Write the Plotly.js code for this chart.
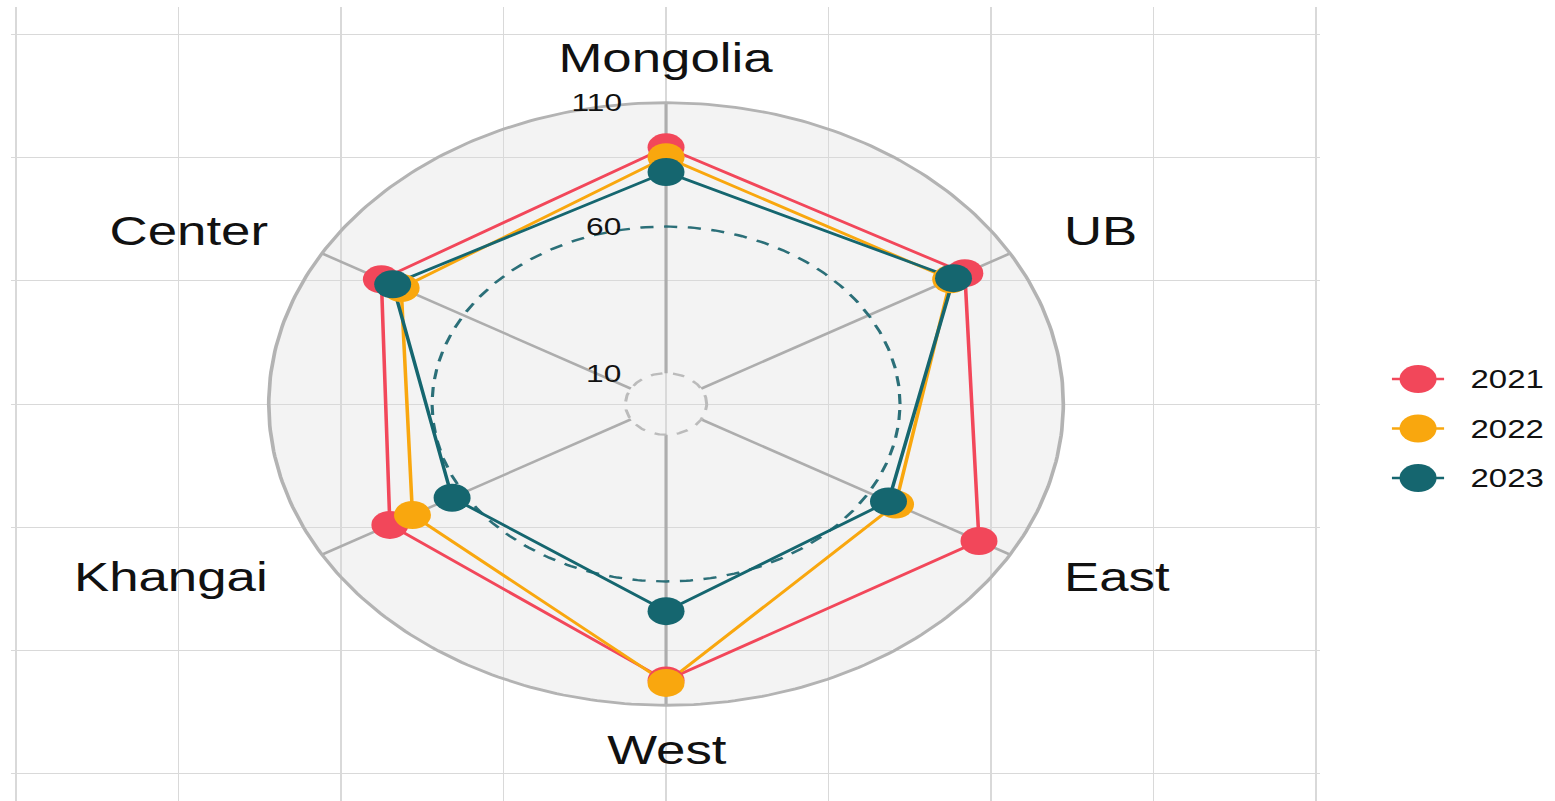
<!DOCTYPE html>
<html><head><meta charset="utf-8">
<script src="https://cdn.plot.ly/plotly-3.0.1.min.js"></script>
<style>
html,body{margin:0;padding:0;background:#fff;overflow:hidden;width:1555px;height:801px;}
#chart{width:1178px;height:801px;transform:scaleX(1.32);transform-origin:0 0;}
</style></head><body><div id="chart"></div>
<script>
// ---------- data ----------
const categories = ['Mongolia', 'UB', 'East', 'West', 'Khangai', 'Center'];
const years = ['2021', '2022', '2023'];
const values2021 = [92, 94, 99, 100, 86, 89];
const values2022 = [88, 89, 69.5, 101, 78, 82];
const values2023 = [82, 90, 67, 72, 64, 85];
const gridLevels = [10, 60, 110];
const gridLabels = ['10', '60', '110'];

// ---------- styling / scale configuration ----------
const seriesValues = [values2021, values2022, values2023];
const colors = ['#F2475A', '#F9A70E', '#15666F'];
const RING_R = [0.25, 1.44, 2.445];      // radius (axis units) of each grid level ring
const FONT = 'Liberation Sans, Arial, Helvetica, sans-serif';

function rad(v) {
  if (v <= gridLevels[1]) {
    return RING_R[0] + (v - gridLevels[0]) / (gridLevels[1] - gridLevels[0]) * (RING_R[1] - RING_R[0]);
  }
  return RING_R[1] + (v - gridLevels[1]) / (gridLevels[2] - gridLevels[1]) * (RING_R[2] - RING_R[1]);
}
const n = categories.length;
const ang = i => Math.PI / 2 - i * 2 * Math.PI / n;
const R = rad(gridLevels[2]);

const traces = [];
function ring(r, color, width, dash) {
  const xs = [], ys = [];
  for (let d = 0; d <= 360; d += 1) {
    const a = d * Math.PI / 180;
    xs.push(r * Math.cos(a)); ys.push(r * Math.sin(a));
  }
  traces.push({x: xs, y: ys, type: 'scatter', mode: 'lines', hoverinfo: 'skip', showlegend: false,
    line: {color: color, width: width, dash: dash}});
}
// spokes
categories.forEach((c, i) => {
  const a = ang(i);
  const r0 = rad(gridLevels[0]);
  traces.push({x: [r0 * Math.cos(a), R * Math.cos(a)], y: [r0 * Math.sin(a), R * Math.sin(a)],
    type: 'scatter', mode: 'lines', hoverinfo: 'skip', showlegend: false,
    line: {color: '#adadad', width: 2.4}});
});
ring(rad(gridLevels[0]), '#bbbbbb', 2.3, '9px,8px');
ring(rad(gridLevels[1]), '#2b6f78', 2.4, '10px,8px');
ring(rad(gridLevels[2]), '#b3b3b3', 2.8, 'solid');

// series lines
seriesValues.forEach((vals, k) => {
  const xs = [], ys = [];
  vals.concat([vals[0]]).forEach((v, j) => {
    const a = ang(j % n);
    xs.push(rad(v) * Math.cos(a)); ys.push(rad(v) * Math.sin(a));
  });
  traces.push({x: xs, y: ys, type: 'scatter', mode: 'lines', name: years[k], showlegend: false,
    hoverinfo: 'skip', line: {color: colors[k], width: 2.7}});
});
// series points
seriesValues.forEach((vals, k) => {
  const xs = vals.map((v, j) => rad(v) * Math.cos(ang(j)));
  const ys = vals.map((v, j) => rad(v) * Math.sin(ang(j)));
  traces.push({x: xs, y: ys, type: 'scatter', mode: 'markers', name: years[k], showlegend: false,
    text: categories, hovertemplate: '%{text}: ' + '%{customdata}<extra>' + years[k] + '</extra>',
    customdata: vals, marker: {color: colors[k], size: 28, opacity: 1, line: {width: 0}}});
});

// custom legend (drawn on secondary axes, in pixel-like units)
const LEG_X = [1054.5, 1074.3, 1094];
const LEG_Y0 = 379, LEG_DY = 49.5;
years.forEach((yr, k) => {
  const yy = LEG_Y0 + k * LEG_DY;
  traces.push({x: LEG_X, y: [yy, yy, yy], xaxis: 'x2', yaxis: 'y2', type: 'scatter', mode: 'lines+markers',
    hoverinfo: 'skip', showlegend: false, line: {color: colors[k], width: 2.7},
    marker: {color: colors[k], size: [0, 28, 0], opacity: 1, line: {width: 0}}});
});

const annotations = [];
categories.forEach((c, i) => {
  const a = ang(i);
  const lr = R * 1.15;
  const cx = Math.cos(a);
  annotations.push({x: lr * cx, y: lr * Math.sin(a), xref: 'x', yref: 'y', text: c, showarrow: false,
    xanchor: Math.abs(cx) < 0.01 ? 'center' : (cx > 0 ? 'left' : 'right'), yanchor: 'middle',
    font: {family: FONT, size: 40, color: '#111'}});
});
gridLevels.forEach((g, i) => {
  annotations.push({x: -0.258, y: rad(g), xref: 'x', yref: 'y', text: gridLabels[i], showarrow: false,
    xanchor: 'right', yanchor: 'middle', font: {family: FONT, size: 24, color: '#111'}});
});
years.forEach((yr, k) => {
  annotations.push({x: 1112, y: LEG_Y0 + k * LEG_DY, xref: 'x2', yref: 'y2', text: yr, showarrow: false,
    xanchor: 'left', yanchor: 'middle', font: {family: FONT, size: 25, color: '#111'}});
});

const layout = {
  width: 1178, height: 801,
  margin: {l: 8, r: 0, t: 7, b: 0, pad: 0},
  paper_bgcolor: '#ffffff', plot_bgcolor: '#ffffff',
  showlegend: false,
  xaxis: {domain: [0, 0.8479], range: [-4.034, 4.025], tick0: 0, dtick: 1, showgrid: true,
    gridcolor: '#d9d9d9', gridwidth: 1.4, zeroline: false, showticklabels: false, ticks: '', showline: false, fixedrange: true},
  yaxis: {domain: [0, 1], range: [-3.222, 3.222], tick0: 0, dtick: 1, showgrid: true,
    gridcolor: '#d9d9d9', gridwidth: 1.4, zeroline: false, showticklabels: false, ticks: '', showline: false, fixedrange: true},
  xaxis2: {domain: [0.85, 1], range: [1002.5, 1178], anchor: 'y2', visible: false, fixedrange: true},
  yaxis2: {domain: [0, 1], range: [801, 7], anchor: 'x2', visible: false, fixedrange: true},
  shapes: [{type: 'circle', xref: 'x', yref: 'y', x0: -R, x1: R, y0: -R, y1: R,
    fillcolor: 'rgba(195,195,195,0.2)', line: {width: 0}, layer: 'below'}],
  annotations: annotations
};
Plotly.newPlot('chart', traces, layout, {displayModeBar: false, responsive: false});
</script></body></html>
